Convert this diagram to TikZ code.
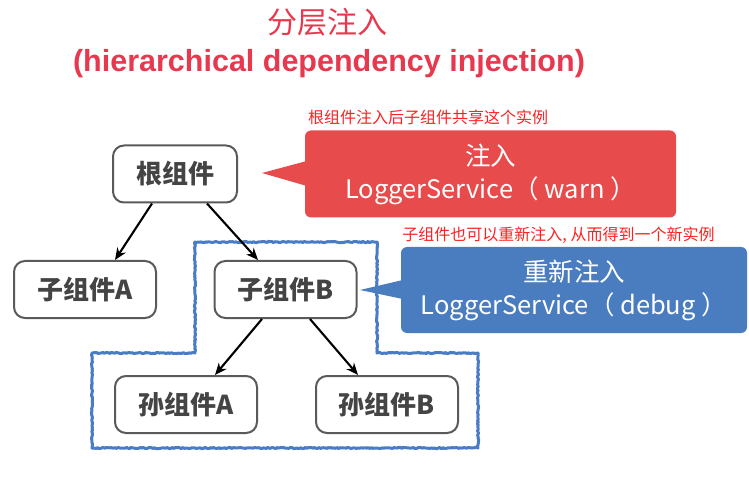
\documentclass[tikz,border=0pt]{standalone}
\usepackage{fontspec}
\setmainfont{Noto Sans CJK SC}
\newfontfamily\titlefont{Liberation Sans}
\usetikzlibrary{arrows.meta,decorations.pathmorphing,calc}
\definecolor{titlered}{HTML}{E8384F}
\definecolor{calloutred}{HTML}{E84B4B}
\definecolor{calloutblue}{HTML}{4A7CC0}
\definecolor{frameblue}{HTML}{4A7CC6}
\definecolor{annored}{HTML}{FF2020}
\definecolor{comptext}{HTML}{444444}
\definecolor{compborder}{HTML}{5A5A5A}
\begin{document}
\begin{tikzpicture}[x=1pt,y=-1pt,
  comp/.style={draw=compborder, line width=2pt, rounded corners=11pt, fill=white,
    minimum width=142pt, minimum height=57pt, inner sep=0pt, text=comptext,
    font=\bfseries\fontsize{26}{26}\selectfont},
  callout/.style={rounded corners=6pt, text=white, align=center, inner sep=0pt,
    font=\fontsize{25.5}{33}\selectfont},
  anno/.style={text=annored, inner sep=0pt, font=\fontsize{16}{16}\selectfont},
  link/.style={-{Stealth[length=12pt,width=10pt]}, line width=2.1pt, black}
]
\useasboundingbox (0,0) rectangle (749,478);

% title
\node[text=titlered, font=\fontsize{30}{30}\selectfont] (t1) at (327,22) {分层注入};
\node[text=titlered, font=\titlefont\bfseries\fontsize{30.5}{30.5}\selectfont] (t2) at (329,64) {(hierarchical dependency injection)};

% blue frame
\draw[frameblue, line width=3pt, line join=round, decorate,
  decoration={random steps, segment length=1.5pt, amplitude=0.6pt}]
  (195,242) -- (377,242) -- (377,353) -- (478,353) -- (478,448) -- (92,448) -- (92,353) -- (195,353) -- cycle;

% components
\node[comp, minimum width=124pt] (root) at (175,174) {根组件};
\node[comp] (ca) at (85,289.5) {子组件A};
\node[comp] (cb) at (285.5,289.5) {子组件B};
\node[comp] (ga) at (186,404.5) {孙组件A};
\node[comp] (gb) at (387,404.5) {孙组件B};

% connectors
\draw[link] ([xshift=-23pt]root.south) -- ([xshift=30pt]ca.north);
\draw[link] ([xshift=32pt]root.south) -- ([xshift=-27.5pt]cb.north);
\draw[link] ([xshift=-23.5pt]cb.south) -- ([xshift=29pt]ga.north);
\draw[link] ([xshift=24.5pt]cb.south) -- ([xshift=-29pt]gb.north);

% red callout
\node[callout, fill=calloutred, minimum width=371pt, minimum height=87pt] (warn) at (490.5,174) {注入\\LoggerService（ warn ）};
\coordinate (warntip) at (262,173);
\fill[calloutred] ([xshift=2pt,yshift=13pt]warn.west) -- (warntip) -- ([xshift=2pt,yshift=-12pt]warn.west) -- cycle;

% blue callout
\node[callout, fill=calloutblue, minimum width=346pt, minimum height=86pt] (debug) at (574,290) {重新注入\\LoggerService（ debug ）};
\coordinate (debugtip) at (360,290);
\fill[calloutblue] ([xshift=2pt,yshift=10pt]debug.west) -- (debugtip) -- ([xshift=2pt,yshift=-9pt]debug.west) -- cycle;

% annotations
\node[anno] (n1) at (428,117) {根组件注入后子组件共享这个实例};
\node[anno] (n2) at (558.5,235) {子组件也可以重新注入, 从而得到一个新实例};
\end{tikzpicture}
\end{document}
